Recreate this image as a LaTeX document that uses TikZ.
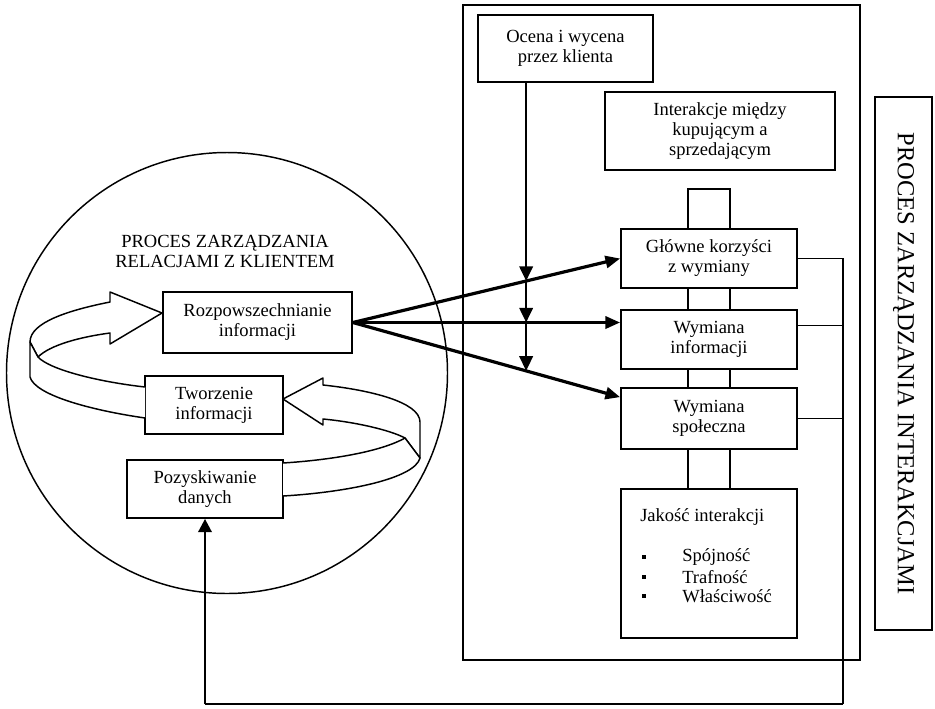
\documentclass[tikz,border=0pt]{standalone}
\usepackage{fontspec}
\setmainfont{Liberation Serif}
\usetikzlibrary{arrows.meta,intersections,calc}
\newcommand{\diagfont}{\fontsize{13.9pt}{15pt}\selectfont}
\begin{document}
\begin{tikzpicture}[x=0.75pt,y=-0.75pt,
  txt/.style={font=\diagfont, align=center, inner sep=0pt},
  box/.style={draw, line width=1.3pt, fill=white, font=\diagfont, align=center, inner sep=2pt},
  frame/.style={draw, line width=1.3pt, inner sep=0pt},
  ribbon/.style={draw, fill=white, line width=1.1pt, line join=round},
  flow/.style={line width=2.4pt, -{Triangle[length=11pt,width=9pt]}},
  down/.style={line width=2pt, -{Triangle[length=11pt,width=10pt]}},
  link/.style={line width=1.3pt},
  bus/.style={line width=1.3pt},
  up/.style={line width=2pt, -{Triangle[length=10pt,width=10pt]}},
  bullet/.style={fill, minimum size=3.5pt, inner sep=0pt}
]
\useasboundingbox (0,0) rectangle (935,708);

% customer relationship management cycle
\node[draw, circle, line width=1.1pt, minimum size=330.75pt, inner sep=0pt] (crm) at (227,373) {};
\node[txt] (crmtitle) at (225,251) {PROCES ZARZĄDZANIA\\RELACJAMI Z KLIENTEM};

\node[box, minimum width=141.75pt, minimum height=45.75pt] (rozp) at (257.5,322.5) {Rozpowszechnianie\\informacji};
\node[box, minimum width=103.5pt, minimum height=43.5pt] (tworz) at (214,405) {Tworzenie\\informacji};
\node[box, minimum width=117pt, minimum height=43.5pt] (pozysk) at (205,489) {Pozyskiwanie\\danych};

% ribbon arrow: Tworzenie -> Rozpowszechnianie (left loop)
\path[ribbon] (38,357) .. controls (50,345) and (80,337) .. (110,333) -- (110,344)
  -- (162,313) -- (110,292) -- (110,302) .. controls (70,310) and (30,322) .. (30,342) -- cycle;
\path[ribbon] (145,387) .. controls (100,382) and (50,370) .. (38,357) -- (30,342)
  -- (30,377) .. controls (35,395) and (90,410) .. (145,418);

% ribbon arrow: Pozyskiwanie -> Tworzenie (right loop)
\path[ribbon] (405,438) .. controls (390,430) and (355,422) .. (323,419) -- (323,425)
  -- (283,399) -- (323,378) -- (323,385) .. controls (370,390) and (420,402) .. (420,422)
  -- (420,458) -- cycle;
\path[ribbon] (283,463) .. controls (330,460) and (380,452) .. (405,438) -- (420,458)
  .. controls (415,478) and (350,492) .. (283,496);

% interaction management process
\node[frame, minimum width=297.75pt, minimum height=491.25pt] (ipm) at (661.5,332.5) {};

\node[box, minimum width=131.25pt, minimum height=50.25pt] (ocena) at (565.5,48.5) {Ocena i wycena\\przez klienta};
\node[box, minimum width=172.5pt, minimum height=58.5pt] (inter) at (720,131) {Interakcje między\\kupującym a\\sprzedającym};
\node[box, minimum width=132pt, minimum height=44.25pt] (glowne) at (709,258.5) {Główne korzyści\\z wymiany};
\node[box, minimum width=132pt, minimum height=44.25pt] (winf) at (709,339.5) {Wymiana\\informacji};
\node[box, minimum width=132pt, minimum height=45.75pt] (wspol) at (709,418.5) {Wymiana\\społeczna};
\node[box, minimum width=132pt, minimum height=111.75pt] (jakosc) at (709,563.5) {};

\node[txt, anchor=west] (jtitle) at (640,517) {Jakość interakcji};
\node[bullet] (b1) at (644,557) {};
\node[bullet] (b2) at (644,577) {};
\node[bullet] (b3) at (644,596) {};
\node[txt, anchor=west] (j1) at (682,557) {Spójność};
\node[txt, anchor=west] (j2) at (682,577) {Trafność};
\node[txt, anchor=west] (j3) at (682,596) {Właściwość};

% stacked links between the exchange boxes
\draw[link] ([xshift=-16pt]glowne.north) -- ++(0,-39) -| ([xshift=16pt]glowne.north);
\draw[link] ([xshift=-16pt]glowne.south) -- ([xshift=-16pt]winf.north);
\draw[link] ([xshift=16pt]glowne.south) -- ([xshift=16pt]winf.north);
\draw[link] ([xshift=-16pt]winf.south) -- ([xshift=-16pt]wspol.north);
\draw[link] ([xshift=16pt]winf.south) -- ([xshift=16pt]wspol.north);
\draw[link] ([xshift=-16pt]wspol.south) -- ([xshift=-16pt]jakosc.north);
\draw[link] ([xshift=16pt]wspol.south) -- ([xshift=16pt]jakosc.north);

% side label
\node[frame, rotate=-90, minimum width=399.75pt, minimum height=42.75pt,
      font=\fontsize{18.4pt}{20pt}\selectfont] (lbl) at (903.5,363.5) {PROCES ZARZĄDZANIA INTERAKCJAMI};

% information flows
\draw[flow, name path=a1] (rozp.east) -- (glowne.west);
\draw[flow, name path=a2] (rozp.east) -- (rozp.east -| glowne.west);
\draw[flow, name path=a3] (rozp.east) -- ([yshift=-7.5pt]wspol.north west);

\coordinate (vtop) at ([xshift=36.75pt]ocena.south west);
\path[name path=vline] (vtop) -- ++(0,400);
\path[name intersections={of=vline and a1, by=x1}];
\path[name intersections={of=vline and a2, by=x2}];
\path[name intersections={of=vline and a3, by=x3}];
\draw[down] (vtop) -- (x1);
\draw[down] (x1) -- (x2);
\draw[down] (x2) -- (x3);

% feedback bus
\coordinate (busbot) at (843,704);
\coordinate (winfc) at ([yshift=10.5pt]winf.east);
\draw[bus] (glowne.east) -| (busbot);
\draw[bus] (winfc) -- (winfc -| busbot);
\draw[bus] (wspol.east) -- (wspol.east -| busbot);
\draw[bus] (busbot) -- (busbot -| pozysk.south);
\draw[up] (busbot -| pozysk.south) -- (pozysk.south);
\end{tikzpicture}
\end{document}
